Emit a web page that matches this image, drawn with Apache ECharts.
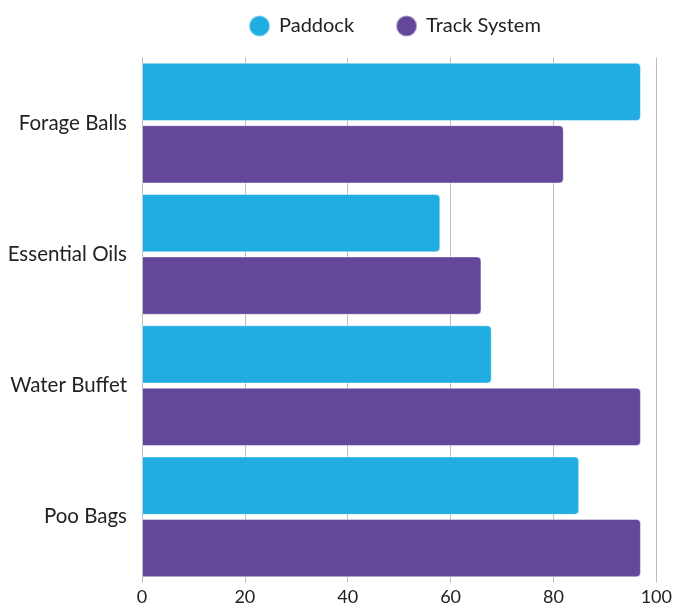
<!DOCTYPE html>
<html>
<head>
<meta charset="utf-8">
<script src="https://cdn.jsdelivr.net/npm/echarts@6/dist/echarts.min.js"></script>
<style>
  html, body { margin: 0; padding: 0; background: #fff; }
  #chart { width: 675px; height: 608px; }
</style>
</head>
<body>
<div id="chart"></div>
<script>
const categories = ['Forage Balls', 'Essential Oils', 'Water Buffet', 'Poo Bags'];
const paddock = [97, 58, 68, 85];
const trackSystem = [82, 66, 97, 97];
const xTicks = { min: 0, max: 100, interval: 20 };

const chart = echarts.init(document.getElementById('chart'), null, { renderer: 'canvas' });
const font = 'Lato, "Noto Sans", sans-serif';

chart.setOption({
  animation: false,
  textStyle: { fontFamily: font },
  legend: {
    top: 9.5,
    left: 243,
    icon: 'circle',
    itemWidth: 21,
    itemHeight: 21,
    itemGap: 41,
    textStyle: { fontFamily: font, fontSize: 20, color: '#222', padding: [0, 0, 0, 4] },
    data: ['Paddock', 'Track System']
  },
  grid: { left: 142, right: 18, top: 57.5, bottom: 25.5, containLabel: false },
  xAxis: {
    type: 'value',
    min: xTicks.min,
    max: xTicks.max,
    interval: xTicks.interval,
    axisLine: { show: false },
    axisTick: { show: false },
    axisLabel: { fontFamily: font, fontSize: 18, color: '#222', margin: 6 },
    splitLine: { show: true, lineStyle: { color: '#bdbdbd', width: 1 } }
  },
  yAxis: {
    type: 'category',
    inverse: true,
    data: categories,
    axisLine: { show: false },
    axisTick: { show: false },
    axisLabel: { fontFamily: font, fontSize: 20.5, color: '#222', margin: 15 }
  },
  series: [
    {
      name: 'Paddock',
      type: 'bar',
      data: paddock,
      barGap: '7%',
      barCategoryGap: '8%',
      itemStyle: { color: '#21ADE1', borderRadius: [0, 4, 4, 0], borderColor: 'rgba(255,255,255,0.45)', borderWidth: 1 }
    },
    {
      name: 'Track System',
      type: 'bar',
      data: trackSystem,
      barGap: '7%',
      barCategoryGap: '8%',
      itemStyle: { color: '#63479B', borderRadius: [0, 4, 4, 0], borderColor: 'rgba(255,255,255,0.45)', borderWidth: 1 }
    }
  ]
});
</script>
</body>
</html>
